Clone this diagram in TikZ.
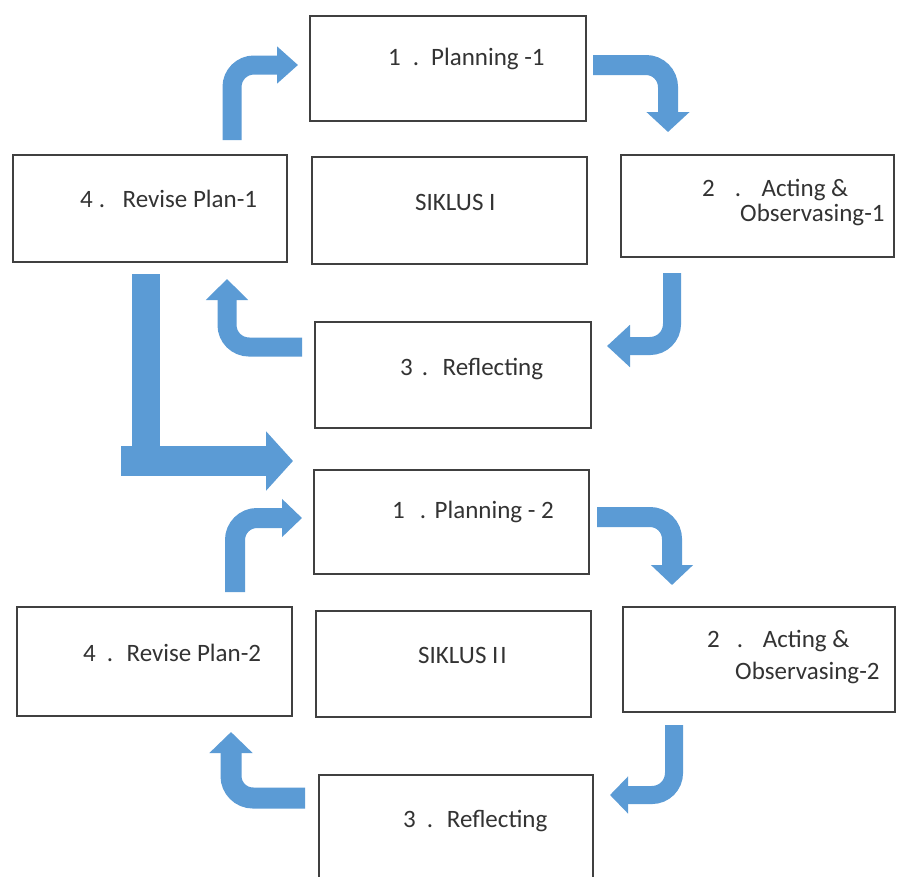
\documentclass[tikz,border=0pt]{standalone}
\usepackage{fontspec}
\setmainfont{Carlito}
\usetikzlibrary{arrows.meta}
\definecolor{arr}{HTML}{5B9BD5}
\definecolor{txt}{HTML}{333333}
\begin{document}
\begin{tikzpicture}[x=1pt,y=-1pt,
  box/.style={draw=black!75, line width=1.3pt, fill=white, rectangle, inner sep=0pt},
  lbl/.style={anchor=base west, inner sep=0pt, text=txt, font=\fontsize{25}{30}\selectfont},
  arrw/.style={draw=arr, line width=#1, rounded corners=22pt}]
\useasboundingbox (0,0) rectangle (897,876);
\clip (0,0) rectangle (897,876);
\fill[white] (0,0) rectangle (897,876);
% ---------- Cycle I boxes
\node[box, minimum width=276pt, minimum height=105pt] (p1) at (448,68.5) {};
\node[box, minimum width=274pt, minimum height=107pt] (r1) at (150,208.5) {};
\node[box, minimum width=275pt, minimum height=107pt] (s1) at (449.5,210.5) {};
\node[box, minimum width=273pt, minimum height=102pt] (a1) at (757.5,206) {};
\node[box, minimum width=276pt, minimum height=106pt] (f1) at (453,375) {};
% ---------- Cycle II boxes
\node[box, minimum width=275pt, minimum height=104pt] (p2) at (451.5,522) {};
\node[box, minimum width=275pt, minimum height=109pt] (r2) at (154.5,661.5) {};
\node[box, minimum width=275pt, minimum height=106pt] (s2) at (453.5,664) {};
\node[box, minimum width=272pt, minimum height=105pt] (a2) at (759,659.5) {};
\node[box, minimum width=274pt, minimum height=125pt] (f2) at (456,837.5) {};
% ---------- texts
\node[lbl] (tp1) at (388,65) {1\hspace{12pt}.\hspace{12pt}Planning -1};
\node[lbl] (tr1) at (80,207) {4\hspace{6pt}.\hspace{17.5pt}Revise Plan-1};
\node[lbl] (ts1) at (415,210) {SIKLUS I};
\node[lbl] (ta1) at (702,196) {2\hspace{20pt}.\hspace{20.5pt}Acting \&};
\node[lbl] (tb1) at (740,221) {Observasing-1};
\node[lbl] (tf1) at (400,375) {3\hspace{9pt}.\hspace{14.5pt}Reflecting};
\node[lbl] (tp2) at (392,518) {1\hspace{15pt}.\hspace{8.5pt}Planning - 2};
\node[lbl] (tr2) at (83,661) {4\hspace{11pt}.\hspace{13.5pt}Revise Plan-2};
\node[lbl] (ts2) at (418,663) {SIKLUS I\hspace{2pt}I};
\node[lbl] (ta2) at (707,647) {2\hspace{17pt}.\hspace{19.7pt}Acting \&};
\node[lbl] (tb2) at (735,679) {Observasing-2};
\node[lbl] (tf2) at (403,827) {3\hspace{11pt}.\hspace{13.7pt}Reflecting};
% ---------- arrow end points, cycle I
\coordinate (a1s) at (232,140);  \coordinate (a1m) at (232,65);  \coordinate (a1e) at (298,65);
\coordinate (a2s) at (593,65);   \coordinate (a2m) at (668,65);  \coordinate (a2e) at (668,132);
\coordinate (a3s) at (672,273);  \coordinate (a3m) at (672,346); \coordinate (a3e) at (607,346);
\coordinate (a4s) at (302,347);  \coordinate (a4m) at (227,347); \coordinate (a4e) at (227,279);
% ---------- transition
\coordinate (ls) at (121,461);   \coordinate (le) at (293,461);
% ---------- arrow end points, cycle II
\coordinate (b1s) at (235,592);  \coordinate (b1m) at (235,518); \coordinate (b1e) at (302,518);
\coordinate (b2s) at (597,517);  \coordinate (b2m) at (672,517); \coordinate (b2e) at (672,585);
\coordinate (b3s) at (674,725);  \coordinate (b3m) at (674,795); \coordinate (b3e) at (610,795);
\coordinate (b4s) at (305,798);  \coordinate (b4m) at (231,798); \coordinate (b4e) at (231,732);
% ---------- arrows cycle I
\draw[arrw=19pt, -{Triangle[width=36pt,length=21pt]}] (a1s) -- (a1m) -- (a1e);
\draw[arrw=20pt, -{Triangle[width=42pt,length=20pt]}] (a2s) -- (a2m) -- (a2e);
\draw[arrw=18pt, -{Triangle[width=41pt,length=23pt]}] (a3s) -- (a3m) -- (a3e);
\draw[arrw=19pt, -{Triangle[width=41pt,length=21pt]}] (a4s) -- (a4m) -- (a4e);
% ---------- transition arrow
\fill[arr] (132,274) rectangle (160,447);
\draw[draw=arr, line width=30pt, -{Triangle[width=58pt,length=27pt]}] (ls) -- (le);
% ---------- arrows cycle II
\draw[arrw=20pt, -{Triangle[width=37pt,length=20pt]}] (b1s) -- (b1m) -- (b1e);
\draw[arrw=20pt, -{Triangle[width=41pt,length=20pt]}] (b2s) -- (b2m) -- (b2e);
\draw[arrw=18pt, -{Triangle[width=36pt,length=18pt]}] (b3s) -- (b3m) -- (b3e);
\draw[arrw=21pt, -{Triangle[width=42pt,length=21pt]}] (b4s) -- (b4m) -- (b4e);
\end{tikzpicture}
\end{document}
